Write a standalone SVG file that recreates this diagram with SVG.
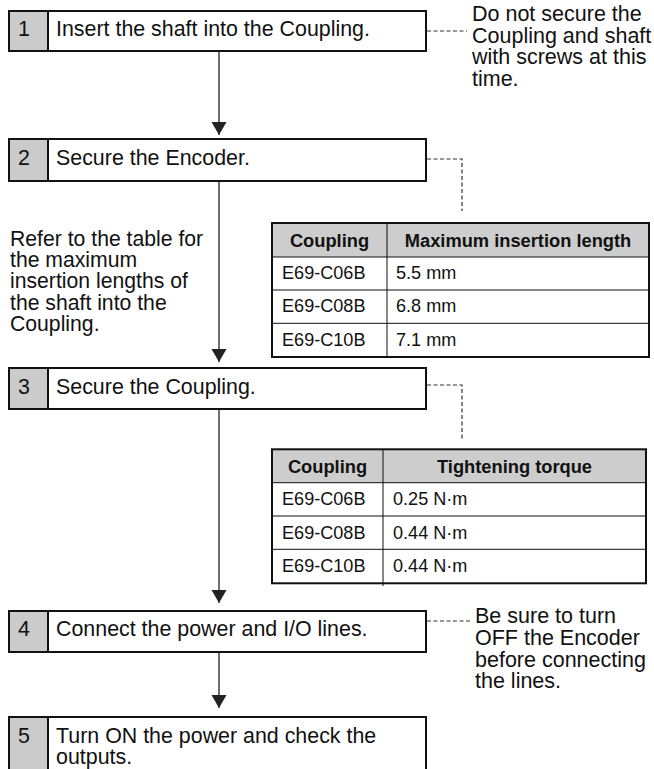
<svg xmlns="http://www.w3.org/2000/svg" width="654" height="769" viewBox="0 0 654 769">
<defs>
<style>
text{font-family:"Liberation Sans",Arial,Helvetica,sans-serif;fill:#111;}
.st{font-size:21.4px;}
.nt{font-size:21.5px;}
.nt2{font-size:21.2px;}
.tb{font-size:18.1px;}
.th{font-size:18.3px;font-weight:bold;}
.box{fill:#fff;stroke:#111;stroke-width:2;}
.num{fill:#cbcbcb;stroke:none;}
.div{stroke:#111;stroke-width:2;}
.tbl{fill:none;stroke:#111;stroke-width:2;}
.thd{fill:#cdcdcd;stroke:none;}
.grid{stroke:#111;stroke-width:1;fill:none;}
.arrow{stroke:#333;stroke-width:1.4;fill:none;marker-end:url(#ah);}
.dash{stroke:#333;stroke-width:1.2;fill:none;stroke-dasharray:4 2.5;}
</style>
<marker id="ah" markerUnits="userSpaceOnUse" markerWidth="16" markerHeight="16" refX="13" refY="7.5" orient="auto">
<path d="M0,0 L13,7.5 L0,15 Z" fill="#222"/>
</marker>
</defs>
<rect width="654" height="769" fill="#fff"/>

<g id="connectors">
<line class="arrow" x1="219" y1="51" x2="219" y2="135"/>
<line class="arrow" x1="219" y1="181" x2="219" y2="362"/>
<line class="arrow" x1="219" y1="409" x2="219" y2="603"/>
<line class="arrow" x1="219" y1="652" x2="219" y2="708"/>
<path class="dash" d="M427,31 H467"/>
<path class="dash" d="M427,159 H462 V211"/>
<path class="dash" d="M427,385 H462 V439"/>
<path class="dash" d="M427,621 H472"/>
</g>

<g id="step1">
<rect class="box" x="9" y="11" width="417" height="40"/>
<rect class="num" x="10" y="12" width="38" height="38"/>
<line class="div" x1="48" y1="11" x2="48" y2="51"/>
<text class="st" x="18" y="36">1</text>
<text class="st" x="56" y="36">Insert the shaft into the Coupling.</text>
</g>

<g id="note1">
<text class="nt" x="472" y="21">Do not secure the</text>
<text class="nt" x="472" y="42.5">Coupling and shaft</text>
<text class="nt" x="472" y="64">with screws at this</text>
<text class="nt" x="472" y="85.5">time.</text>
</g>

<g id="step2">
<rect class="box" x="9" y="139" width="417" height="42"/>
<rect class="num" x="10" y="140" width="38" height="40"/>
<line class="div" x1="48" y1="139" x2="48" y2="181"/>
<text class="st" x="18" y="165">2</text>
<text class="st" x="56" y="165">Secure the Encoder.</text>
</g>

<g id="note2">
<text class="nt2" x="10" y="246">Refer to the table for</text>
<text class="nt2" x="10" y="267.2">the maximum</text>
<text class="nt2" x="10" y="288.4">insertion lengths of</text>
<text class="nt2" x="10" y="309.6">the shaft into the</text>
<text class="nt2" x="10" y="330.8">Coupling.</text>
</g>

<g id="table1">
<rect class="thd" x="272" y="223" width="377" height="34"/>
<line class="grid" x1="272" y1="257" x2="649" y2="257"/>
<line class="grid" x1="272" y1="290" x2="649" y2="290"/>
<line class="grid" x1="272" y1="323.3" x2="649" y2="323.3"/>
<line class="grid" x1="387" y1="223" x2="387" y2="357"/>
<rect class="tbl" x="272" y="223" width="377" height="134"/>
<text class="th" x="329.5" y="246.7" text-anchor="middle">Coupling</text>
<text class="th" x="518" y="246.7" text-anchor="middle">Maximum insertion length</text>
<text class="tb" x="282" y="279">E69-C06B</text>
<text class="tb" x="396" y="279">5.5 mm</text>
<text class="tb" x="282" y="312.3">E69-C08B</text>
<text class="tb" x="396" y="312.3">6.8 mm</text>
<text class="tb" x="282" y="345.6">E69-C10B</text>
<text class="tb" x="396" y="345.6">7.1 mm</text>
</g>

<g id="step3">
<rect class="box" x="9" y="368" width="417" height="41"/>
<rect class="num" x="10" y="369" width="38" height="39"/>
<line class="div" x1="48" y1="368" x2="48" y2="409"/>
<text class="st" x="18" y="394">3</text>
<text class="st" x="56" y="394">Secure the Coupling.</text>
</g>

<g id="table2">
<rect class="thd" x="272" y="449.3" width="374" height="33.4"/>
<line class="grid" x1="272" y1="482.7" x2="646" y2="482.7"/>
<line class="grid" x1="272" y1="516" x2="646" y2="516"/>
<line class="grid" x1="272" y1="549.3" x2="646" y2="549.3"/>
<line class="grid" x1="383" y1="449.3" x2="383" y2="586"/>
<rect class="tbl" x="272" y="449.3" width="374" height="134"/>
<text class="th" x="327.5" y="472.5" text-anchor="middle">Coupling</text>
<text class="th" x="514.5" y="472.5" text-anchor="middle">Tightening torque</text>
<text class="tb" x="282" y="505.3">E69-C06B</text>
<text class="tb" x="393" y="505.3">0.25 N·m</text>
<text class="tb" x="282" y="538.6">E69-C08B</text>
<text class="tb" x="393" y="538.6">0.44 N·m</text>
<text class="tb" x="282" y="571.9">E69-C10B</text>
<text class="tb" x="393" y="571.9">0.44 N·m</text>
</g>

<g id="step4">
<rect class="box" x="9" y="611" width="417" height="41"/>
<rect class="num" x="10" y="612" width="38" height="39"/>
<line class="div" x1="48" y1="611" x2="48" y2="652"/>
<text class="st" x="18" y="636">4</text>
<text class="st" x="56" y="636">Connect the power and I/O lines.</text>
</g>

<g id="note4">
<text class="nt" x="475" y="623.3">Be sure to turn</text>
<text class="nt" x="475" y="645">OFF the Encoder</text>
<text class="nt" x="475" y="666.7">before connecting</text>
<text class="nt" x="475" y="688.4">the lines.</text>
</g>

<g id="step5">
<rect class="box" x="9" y="717" width="417" height="70"/>
<rect class="num" x="10" y="718" width="38" height="68"/>
<line class="div" x1="48" y1="717" x2="48" y2="787"/>
<text class="st" x="18" y="743">5</text>
<text class="st" x="56" y="743">Turn ON the power and check the</text>
<text class="st" x="56" y="764.3">outputs.</text>
</g>
</svg>
